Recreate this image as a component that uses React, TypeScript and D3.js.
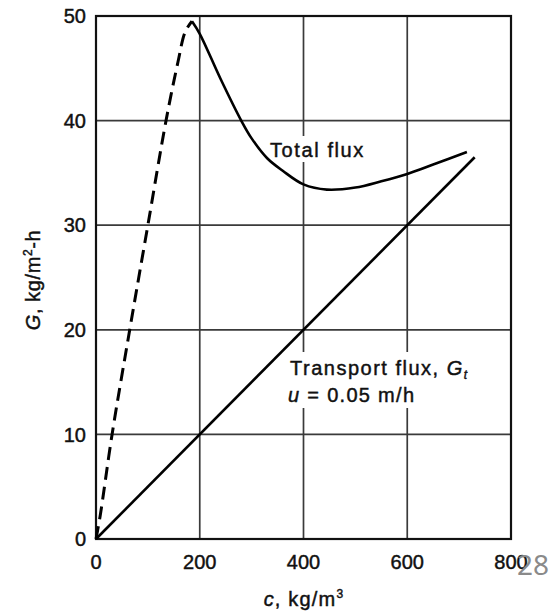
import React from "react";
import * as d3 from "d3";

const xTicks = [0, 200, 400, 600, 800];
const yTicks = [0, 10, 20, 30, 40, 50];

// Total flux, dashed (rising) part
const dashedC = [0, 8, 31, 65, 100, 135, 158, 172, 185];
const dashedG = [0, 2.2, 10, 20, 30, 40, 45.6, 48.5, 49.5];

// Total flux, solid (falling then rising) part
const solidC = [185, 200, 240, 280, 300, 330, 360, 400, 445, 500, 550, 600, 650, 715];
const solidG = [49.5, 48.3, 44.0, 40.0, 38.3, 36.4, 35.2, 33.9, 33.4, 33.6, 34.2, 34.9, 35.8, 37.0];

// Transport flux line
const transportC = [0, 730];
const transportG = [0, 36.5];

const W = 555;
const H = 613;

export default function App() {
  const x = d3.scaleLinear().domain([0, 800]).range([96, 511]);
  const y = d3.scaleLinear().domain([0, 50]).range([539, 16]);

  const line = d3
    .line<[number, number]>()
    .x((d) => x(d[0]))
    .y((d) => y(d[1]))
    .curve(d3.curveCatmullRom.alpha(0.5));

  const straight = d3
    .line<[number, number]>()
    .x((d) => x(d[0]))
    .y((d) => y(d[1]));

  const dashedPts = dashedC.map((c, i) => [c, dashedG[i]] as [number, number]);
  const solidPts = solidC.map((c, i) => [c, solidG[i]] as [number, number]);
  const transportPts = transportC.map((c, i) => [c, transportG[i]] as [number, number]);

  const font = "'Liberation Sans', Arial, Helvetica, sans-serif";
  const gridColor = "#3a3a3a";
  const txt = { fill: "#111", stroke: "#111", strokeWidth: 0.45 };

  return (
    <svg
      width={W}
      height={H}
      style={{ position: "absolute", left: 0, top: 0, background: "#fff" }}
      fontFamily={font}
    >
      <rect x={0} y={0} width={W} height={H} fill="#fff" />
      {/* grid */}
      {xTicks.slice(1, -1).map((t) => (
        <line key={"gx" + t} x1={x(t)} x2={x(t)} y1={y(0)} y2={y(50)} stroke={gridColor} strokeWidth={1.7} />
      ))}
      {yTicks.slice(1, -1).map((t) => (
        <line key={"gy" + t} x1={x(0)} x2={x(800)} y1={y(t)} y2={y(t)} stroke={gridColor} strokeWidth={1.7} />
      ))}
      {/* border */}
      <rect
        x={x(0)}
        y={y(50)}
        width={x(800) - x(0)}
        height={y(0) - y(50)}
        fill="none"
        stroke="#111"
        strokeWidth={2.2}
      />

      {/* label backgrounds */}
      <rect x={266} y={136} width={106} height={26} fill="#fff" />
      <rect x={286} y={352} width={200} height={56} fill="#fff" />

      {/* curves */}
      <path d={straight(transportPts) || ""} fill="none" stroke="#000" strokeWidth={2.6} />
      <path d={line(dashedPts) || ""} fill="none" stroke="#000" strokeWidth={3} strokeDasharray="13 7" />
      <path d={line(solidPts) || ""} fill="none" stroke="#000" strokeWidth={2.6} />

      {/* y tick labels */}
      {yTicks.map((t) => (
        <text key={"yl" + t} x={86} y={y(t)} dy="0.36em" textAnchor="end" fontSize={20} {...txt}>
          {t}
        </text>
      ))}
      {/* x tick labels */}
      {xTicks.map((t) => (
        <text key={"xl" + t} x={x(t)} y={569} textAnchor="middle" fontSize={20} {...txt}>
          {t}
        </text>
      ))}

      {/* axis titles */}
      <text x={304} y={606} textAnchor="middle" fontSize={20} letterSpacing={1.2} {...txt}>
        <tspan fontStyle="italic">c</tspan>, kg/m
        <tspan fontSize={12} dy={-8}>3</tspan>
      </text>
      <text
        transform="translate(40,280) rotate(-90)"
        textAnchor="middle"
        fontSize={20}
        letterSpacing={0.6}
        {...txt}
      >
        <tspan fontStyle="italic">G</tspan>, kg/m
        <tspan fontSize={12} dy={-8}>2</tspan>
        <tspan dy={8}>-h</tspan>
      </text>

      {/* annotations */}
      <text x={270} y={157} fontSize={20} letterSpacing={1.6} {...txt}>
        Total flux
      </text>
      <text x={290} y={375} fontSize={20} letterSpacing={1.5} {...txt}>
        Transport flux, <tspan fontStyle="italic">G</tspan>
        <tspan fontStyle="italic" fontSize={12} dy={4}>t</tspan>
      </text>
      <text x={288} y={402} fontSize={20} letterSpacing={1.3} {...txt}>
        <tspan fontStyle="italic">u</tspan> = 0.05 m/h
      </text>

      {/* page number */}
      <text x={517} y={575} fontSize={28} fontFamily="'Noto Sans', sans-serif" fill="#8a8a8a">
        28
      </text>
    </svg>
  );
}
